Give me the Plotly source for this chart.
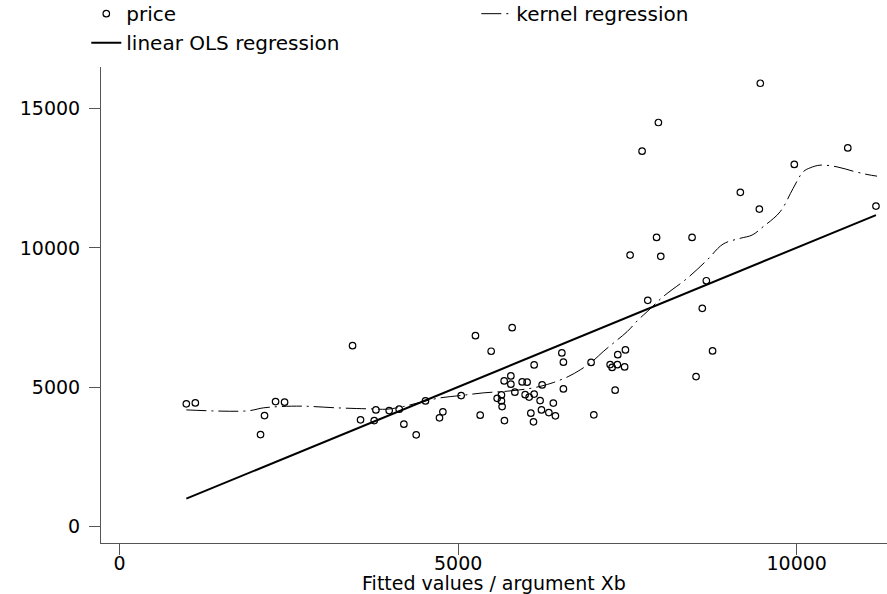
import numpy as np
import plotly.graph_objects as go

# Scatter data: fitted values (Xb) and observed price
xb = [985, 1118, 2081, 2140, 2303, 2436, 3440, 3558, 3760, 3785,
      3981, 4129, 4198, 4380, 4517, 4724, 4774, 5044, 5255, 5325,
      5487, 5576, 5639, 5639, 5649, 5679, 5683, 5778, 5778, 5797,
      5837, 5945, 6018, 5989, 6048, 6122, 6122, 6210, 6230, 6073,
      6112, 6240, 6339, 6405, 6436, 6531, 6554, 6554, 6963, 7003,
      7244, 7273, 7351, 7357, 7470, 7458, 7318, 7539, 7716, 7800,
      7930, 7957, 7992, 8454, 8513, 8605, 8665, 8757, 9167, 9448,
      9462, 9964, 10754, 11170]
price = [4400, 4435, 3299, 3980, 4482, 4460, 6490, 3826, 3801, 4184,
         4159, 4209, 3672, 3288, 4507, 3897, 4113, 4697, 6848, 3994,
         6289, 4597, 4722, 4507, 4303, 5224, 3801, 5403, 5106, 7135,
         4819, 5188, 5177, 4729, 4643, 5798, 4751, 4518, 4184, 4066,
         3754, 5081, 4087, 4428, 3969, 6228, 5895, 4937, 5887, 4005,
         5809, 5708, 5805, 6167, 6336, 5726, 4891, 9742, 13471, 8118,
         10376, 14500, 9695, 10376, 5378, 7831, 8820, 6300, 11994, 11391,
         15909, 12994, 13589, 11499]

# Kernel regression curve
kern_x = [985, 1885, 2122, 2372, 2712, 3214, 3701, 3952, 4188, 4483,
          4734, 5030, 5369, 5723, 6018, 6240, 6402, 6624, 6801, 6978,
          7141, 7318, 7495, 7657, 7790, 8026, 8381, 8676, 8912, 9163,
          9340, 9503, 9754, 9946, 10094, 10197, 10344, 10595, 10831, 11038,
          11186]
kern_y = [4184, 4148, 4256, 4303, 4317, 4256, 4220, 4209, 4303, 4482,
          4615, 4697, 4794, 4855, 4937, 5045, 5163, 5378, 5619, 5916,
          6275, 6633, 6992, 7411, 7709, 8247, 8906, 9563, 10136, 10341,
          10459, 10757, 11294, 12133, 12729, 12872, 12969, 12908, 12754, 12635,
          12574]

# Linear OLS regression of price on xb
slope, intercept = np.polyfit(xb, price, 1)
ols_x = [min(xb), max(xb)]
ols_y = [slope * v + intercept for v in ols_x]

x_ticks = [0, 5000, 10000]
y_ticks = [0, 5000, 10000, 15000]

FONT = "DejaVu Sans"
AX = "#555555"

fig = go.Figure()
fig.add_trace(go.Scatter(
    x=xb, y=price, mode="markers", name="price",
    marker=dict(symbol="circle-open", size=6.5, color="black", line=dict(width=1.2, color="black")),
))
fig.add_trace(go.Scatter(
    x=kern_x, y=kern_y, mode="lines", name="kernel regression",
    line=dict(color="black", width=1, dash="20px,5px,2px,5px", shape="spline"),
))
fig.add_trace(go.Scatter(
    x=ols_x, y=ols_y, mode="lines", name="linear OLS regression",
    line=dict(color="black", width=2),
))

fig.update_layout(
    width=887, height=594,
    margin=dict(l=101, r=0, t=67, b=51, autoexpand=False),
    paper_bgcolor="white", plot_bgcolor="white",
    font=dict(family=FONT, size=19, color="black"),
    showlegend=True,
    legend=dict(
        orientation="h", x=-0.0187, xanchor="left", y=1.153, yanchor="top",
        entrywidth=345, entrywidthmode="pixels",
        font=dict(family=FONT, size=20, color="black"),
        bgcolor="rgba(0,0,0,0)", traceorder="normal",
    ),
    xaxis=dict(
        range=[-275, 11333], tickvals=x_ticks, ticktext=[str(v) for v in x_ticks],
        showgrid=False, zeroline=False, showline=True, linecolor=AX, linewidth=1,
        ticks="outside", ticklen=11, tickcolor=AX, tickwidth=1,
        ticklabelstandoff=-8,
        title=dict(text="Fitted values / argument Xb", font=dict(family=FONT, size=19), standoff=14),
    ),
    yaxis=dict(
        range=[-595, 16493], tickvals=y_ticks, ticktext=[str(v) for v in y_ticks],
        showgrid=False, zeroline=False, showline=True, linecolor=AX, linewidth=1,
        ticks="outside", ticklen=11, tickcolor=AX, tickwidth=1,
        ticklabelstandoff=5,
    ),
)

fig.write_html("out.html", config={"displayModeBar": False},
               post_script="document.body.style.margin='0';")
